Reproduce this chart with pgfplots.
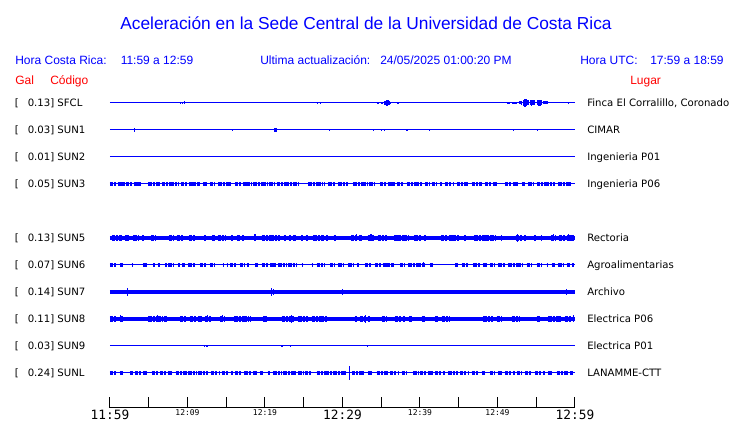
\documentclass[border=0pt]{standalone}
\usepackage{pgfplots}
\pgfplotsset{compat=1.18}
\usepackage{fontspec}
\setmainfont{Liberation Sans}
\newfontfamily\dv{DejaVu Sans}
\newfontfamily\dvm{DejaVu Sans Mono}
\definecolor{cblue}{RGB}{0,0,255}
\definecolor{cred}{RGB}{255,0,0}
\newcommand{\bigt}{\dvm\fontsize{9.6}{9.6}\selectfont}
\newcommand{\smt}{\dvm\fontsize{6}{6}\selectfont}
\pgfplotsset{
  base/.style={cblue, line width=0.75pt, forget plot},
  band/.style={cblue, line width=3pt, forget plot, unbounded coords=jump},
  blk/.style={cblue, line width=#1, forget plot, unbounded coords=jump,
     dash pattern=on 2.6pt off 0.7pt on 1.5pt off 1pt on 3.6pt off 0.7pt on 1.1pt off 0.8pt},
  spk/.style={draw=none, mark=none, forget plot,
     error bars/.cd, y dir=both, y explicit, error mark=none,
     error bar style={draw=cblue, solid, line width=1.1pt}},
}
\begin{document}
\begin{tikzpicture}
\useasboundingbox (0,0) rectangle (555pt,-317.25pt);
\begin{axis}[
  at={(82.5pt,-306pt)}, anchor=south west,
  scale only axis, width=348.75pt, height=239.25pt,
  xmin=0, xmax=60, ymin=-305, ymax=14,
  axis x line=bottom, axis y line=none,
  axis line style={black, line width=0.75pt, -},
  xtick={0,5,...,60}, tick align=inside, major tick length=8.25pt,
  tick style={black, line width=0.75pt},
  xticklabels={{\bigt 11:59},{},{\smt 12:09},{},{\smt 12:19},{},{\bigt 12:29},{},{\smt 12:39},{},{\smt 12:49},{},{\bigt 12:59}},
  xticklabel style={anchor=north, inner sep=1pt},
  clip=false,
]
% ---- SFCL (row 0)
\addplot[base] coordinates {(0,0) (60,0)};
\addplot[blk=1.5pt, solid] coordinates {(36.99,0) (37.29,0) (37.3,nan) (51.2,0) (51.6,0) (51.7,nan) (51.9,0) (52.5,0)};
\addplot[blk=3.75pt, solid] coordinates {(54.2,0) (54.9,0) (55,nan) (55.1,0) (55.7,0)};
\addplot[blk=2.25pt, solid] coordinates {(55.9,0) (56.5,0)};
\addplot[spk] coordinates {(9.1,0) +- (0,0.7) (9.35,0) +- (0,0.7) (9.6,0) +- (0,1.5) (26.75,0) +- (0,0.8) (27.15,0) +- (0,1.0)
 (34.6,0) +- (0,0.8) (35.1,0) +- (0,0.8) (35.45,0) +- (0,1.6) (35.6,0) +- (0,2.2) (35.75,0) +- (0,3.3) (35.9,0) +- (0,2.5) (36.05,0) +- (0,2.0) (36.2,0) +- (0,1.3)
 (51.3,0) +- (0,0.8) (52.0,0) +- (0,1.2) (52.3,0) +- (0,1.3) (52.9,0) +- (0,1.5) (53.1,0) +- (0,1.8) (53.35,0) +- (0,3.0)
 (53.55,0) +- (0,4.3) (53.75,0) +- (0,3.5) (53.95,0) +- (0,2.5) (54.4,0) +- (0,2.7) (54.7,0) +- (0,2.2) (55.3,0) +- (0,3.2)
 (55.5,0) +- (0,2.6) (59.15,0) +- (0,1.3)};
% ---- SUN1 (row 1)
\addplot[base] coordinates {(0,-27) (60,-27)};
\addplot[spk] coordinates {(3.15,-27) +- (0,1.7) (15.8,-27) +- (0,0.9) (21.25,-27) +- (0,1.7) (21.4,-27) +- (0,1.7)
 (28.3,-27) +- (0,1.3) (34.0,-27) +- (0,0.9) (35.05,-27) +- (0,1.3) (35.4,-27) +- (0,1.3) (38.35,-27) +- (0,0.9)
 (41.2,-27) +- (0,0.9) (52.05,-27) +- (0,0.9) (55.15,-27) +- (0,1.3)};
% ---- SUN2 (row 2)
\addplot[base] coordinates {(0,-54) (60,-54)};
% ---- SUN3 (row 3)
\addplot[base] coordinates {(0,-81) (60,-81)};
\addplot[blk=2.6pt] coordinates {(0,-81) (4.09,-81) (4.1,nan) (4.95,-81) (6.45,-81) (6.5,nan) (6.67,-81) (8.82,-81) (8.9,nan)
 (9.16,-81) (11.61,-81) (11.7,nan) (12.04,-81) (12.47,-81) (12.5,nan) (12.9,-81) (13.55,-81) (13.6,nan) (13.98,-81) (15.7,-81) (15.8,nan)
 (16.13,-81) (18.28,-81) (18.3,nan) (18.49,-81) (21.29,-81) (21.3,nan) (21.5,-81) (23.44,-81) (23.5,nan) (23.66,-81) (24.3,-81) (24.4,nan)
 (25.59,-81) (27.74,-81) (27.8,nan) (28.17,-81) (29.03,-81) (29.1,nan) (29.46,-81) (30.75,-81) (30.8,nan) (31.4,-81) (34.19,-81) (34.2,nan)
 (34.84,-81) (36.77,-81) (36.8,nan) (36.99,-81) (37.85,-81) (37.9,nan) (38.28,-81) (40.22,-81) (40.3,nan) (40.65,-81) (41.29,-81) (41.3,nan)
 (41.51,-81) (42.15,-81) (42.2,nan) (42.58,-81) (42.8,-81) (42.9,nan) (43.23,-81) (44.3,-81) (44.4,nan) (44.73,-81) (46.24,-81) (46.3,nan)
 (46.67,-81) (47.96,-81) (48.0,nan) (48.39,-81) (49.89,-81) (49.9,nan) (50.97,-81) (52.69,-81) (52.7,nan) (53.12,-81) (53.55,-81) (53.6,nan)
 (53.98,-81) (54.62,-81) (54.7,nan) (55.05,-81) (57.42,-81) (57.5,nan) (57.85,-81) (59.57,-81)};
% ---- SUN5 (row 5)
\addplot[band] coordinates {(0,-135) (60,-135)};
\addplot[blk=4.5pt] coordinates {(0.22,-135) (1.51,-135) (1.6,nan) (1.94,-135) (2.45,-135) (2.5,nan) (3.01,-135) (3.66,-135) (3.7,nan)
 (4.17,-135) (4.43,-135) (4.5,nan) (5.29,-135) (5.89,-135) (5.9,nan) (7.61,-135) (8.22,-135) (8.3,nan) (8.6,-135) (9.46,-135) (9.5,nan)
 (10.19,-135) (11.18,-135) (11.2,nan) (12.17,-135) (12.34,-135) (12.4,nan) (13.2,-135) (13.55,-135) (13.6,nan) (13.89,-135) (14.92,-135) (15,nan)
 (15.61,-135) (15.87,-135) (15.9,nan) (16.34,-135) (16.77,-135) (16.8,nan) (17.08,-135) (17.33,-135) (17.4,nan) (19.57,-135) (21.94,-135) (22,nan)
 (22.41,-135) (22.75,-135) (22.8,nan) (23.1,-135) (23.35,-135) (23.4,nan) (23.78,-135) (23.96,-135) (24,nan) (24.65,-135) (24.9,-135) (25,nan)
 (25.25,-135) (25.51,-135) (25.6,nan) (26.24,-135) (27.66,-135) (27.7,nan) (27.91,-135) (28.09,-135) (28.1,nan) (28.86,-135) (29.2,-135) (29.3,nan)
 (31.1,-135) (32.56,-135) (32.6,nan) (33.25,-135) (34.02,-135) (34.1,nan) (34.54,-135) (35.74,-135) (35.8,nan) (36.69,-135) (38.71,-135) (38.8,nan)
 (39.27,-135) (40.04,-135) (40.1,nan) (40.56,-135) (40.82,-135) (40.9,nan) (42.71,-135) (45.03,-135) (45.1,nan) (45.72,-135) (45.98,-135) (46,nan)
 (47.01,-135) (49.68,-135) (49.7,nan) (50.45,-135) (50.62,-135) (50.7,nan) (52.34,-135) (53.2,-135) (53.3,nan) (53.46,-135) (53.63,-135) (53.7,nan)
 (54.75,-135) (54.92,-135) (55,nan) (55.61,-135) (55.78,-135) (55.8,nan) (56.9,-135) (57.51,-135) (57.6,nan) (57.94,-135) (59.91,-135)};
\addplot[spk] coordinates {(18.71,-135) +- (0,3.5) (21.5,-135) +- (0,3.2) (23.66,-135) +- (0,3) (31.83,-135) +- (0,3.5)
 (33.68,-135) +- (0,3.5) (37.29,-135) +- (0,3.2) (40.0,-135) +- (0,3.2) (48.73,-135) +- (0,3.2) (52.56,-135) +- (0,3.8)
 (57.2,-135) +- (0,3.5) (59.14,-135) +- (0,3.5)};
% ---- SUN6 (row 6)
\addplot[base] coordinates {(0,-162) (60,-162)};
\addplot[blk=2.4pt] coordinates {(0,-162) (0.73,-162) (0.8,nan) (1.29,-162) (1.85,-162) (1.9,nan) (2.8,-162) (2.97,-162) (3,nan)
 (4.3,-162) (4.73,-162) (4.8,nan) (5.59,-162) (5.81,-162) (5.9,nan) (6.15,-162) (6.45,-162) (6.5,nan) (7.1,-162) (7.31,-162) (7.4,nan)
 (7.53,-162) (8.3,-162) (8.4,nan) (8.82,-162) (9.03,-162) (9.1,nan) (9.33,-162) (9.68,-162) (9.7,nan) (10.11,-162) (10.97,-162) (11,nan)
 (11.61,-162) (12.34,-162) (12.4,nan) (12.9,-162) (13.55,-162) (13.6,nan) (14.62,-162) (14.75,-162) (14.8,nan) (15.05,-162) (15.27,-162) (15.3,nan)
 (15.48,-162) (16.34,-162) (16.4,nan) (16.77,-162) (17.42,-162) (17.5,nan) (17.63,-162) (17.94,-162) (18,nan) (18.71,-162) (19.14,-162) (19.2,nan)
 (19.57,-162) (20.34,-162) (20.4,nan) (20.65,-162) (21.38,-162) (21.4,nan) (21.72,-162) (22.8,-162) (22.9,nan) (23.01,-162) (24.09,-162) (24.1,nan)
 (24.73,-162) (24.86,-162) (24.9,nan) (26.02,-162) (26.24,-162) (26.3,nan) (26.67,-162) (27.74,-162) (27.8,nan) (28.39,-162) (29.03,-162) (29.1,nan)
 (29.46,-162) (30.11,-162) (30.2,nan) (30.75,-162) (31.4,-162) (31.5,nan) (31.83,-162) (32.13,-162) (32.2,nan) (32.9,-162) (33.76,-162) (33.8,nan)
 (34.19,-162) (36.77,-162) (36.8,nan) (37.42,-162) (38.06,-162) (38.1,nan) (38.49,-162) (40.65,-162) (40.7,nan) (41.29,-162) (41.72,-162) (41.8,nan)
 (44.52,-162) (44.95,-162) (45,nan) (45.38,-162) (46.24,-162) (46.3,nan) (46.88,-162) (47.74,-162) (47.8,nan) (48.17,-162) (48.6,-162) (48.7,nan)
 (49.03,-162) (49.68,-162) (49.7,nan) (50.11,-162) (50.97,-162) (51,nan) (51.4,-162) (53.33,-162) (53.4,nan) (53.76,-162) (54.41,-162) (54.5,nan)
 (55.05,-162) (55.7,-162) (55.8,nan) (56.34,-162) (56.56,-162) (56.6,nan) (56.99,-162) (57.42,-162) (57.5,nan) (57.85,-162) (58.49,-162) (58.5,nan)
 (58.92,-162) (59.35,-162) (59.4,nan) (59.57,-162) (59.91,-162)};
\addplot[spk] coordinates {(40.43,-162) +- (0,2.5) (52.9,-162) +- (0,2)};
% ---- SUN7 (row 7)
\addplot[band] coordinates {(0,-189) (60,-189)};
\addplot[spk] coordinates {(2.28,-189) +- (0,4) (7.53,-189) +- (0,2.2) (20.86,-189) +- (0,4.2) (21.08,-189) +- (0,3)
 (22.58,-189) +- (0,2.2) (29.98,-189) +- (0,2.6) (35.7,-189) +- (0,2) (38.58,-189) +- (0,2.2) (39.87,-189) +- (0,2.2)
 (41.29,-189) +- (0,2.2) (45.81,-189) +- (0,2.2) (49.03,-189) +- (0,2.2) (53.46,-189) +- (0,1.8) (58.92,-189) +- (0,2.6)};
% ---- SUN8 (row 8)
\addplot[band] coordinates {(0,-216) (60,-216)};
\addplot[blk=4.5pt] coordinates {(0,-216) (0.86,-216) (0.9,nan) (1.29,-216) (1.72,-216) (1.8,nan) (4.95,-216) (7.31,-216) (7.4,nan)
 (9.03,-216) (9.89,-216) (9.9,nan) (10.32,-216) (11.91,-216) (12,nan) (12.26,-216) (13.03,-216) (13.1,nan) (14.19,-216) (14.84,-216) (14.9,nan)
 (16.04,-216) (18.19,-216) (18.2,nan) (19.78,-216) (20.22,-216) (20.3,nan) (22.15,-216) (23.87,-216) (23.9,nan) (24.3,-216) (25.59,-216) (25.6,nan)
 (26.02,-216) (27.96,-216) (28,nan) (31.61,-216) (31.83,-216) (31.9,nan) (32.26,-216) (33.55,-216) (33.6,nan) (35.05,-216) (35.7,-216) (35.8,nan)
 (36.77,-216) (38.06,-216) (38.1,nan) (38.58,-216) (39.14,-216) (39.2,nan) (40.22,-216) (40.65,-216) (40.7,nan) (41.94,-216) (42.37,-216) (42.4,nan)
 (42.8,-216) (43.87,-216) (43.9,nan) (48.17,-216) (49.46,-216) (49.5,nan) (49.89,-216) (50.54,-216) (50.6,nan) (51.83,-216) (52.9,-216) (53,nan)
 (55.05,-216) (55.48,-216) (55.5,nan) (56.56,-216) (58.28,-216) (58.3,nan) (58.71,-216) (59.78,-216)};
\addplot[spk] coordinates {(1.38,-216) +- (0,3.5) (6.15,-216) +- (0,3.5) (12.6,-216) +- (0,3.5) (14.49,-216) +- (0,3.5)
 (23.44,-216) +- (0,4) (32.99,-216) +- (0,4) (56.77,-216) +- (0,3) (59.78,-216) +- (0,3.5)};
% ---- SUN9 (row 9)
\addplot[base] coordinates {(0,-243) (60,-243)};
\addplot[spk] coordinates {(12.2,-243) +- (0,1.3) (12.5,-243) +- (0,1.3) (22.2,-243) +- (0,1.3) (23.3,-243) +- (0,0.9) (33.2,-243) +- (0,0.9)};
% ---- SUNL (row 10)
\addplot[base] coordinates {(0,-270) (60,-270)};
\addplot[blk=2.5pt] coordinates {(0,-270) (0.86,-270) (0.9,nan) (1.29,-270) (1.72,-270) (1.8,nan) (2.58,-270) (3.01,-270) (3.1,nan)
 (3.23,-270) (4.73,-270) (4.8,nan) (5.38,-270) (6.24,-270) (6.3,nan) (6.45,-270) (7.96,-270) (8,nan) (8.47,-270) (9.89,-270) (9.9,nan)
 (10.11,-270) (11.18,-270) (11.2,nan) (11.4,-270) (12.69,-270) (12.7,nan) (13.03,-270) (14.19,-270) (14.2,nan) (14.41,-270) (15.27,-270) (15.3,nan)
 (15.61,-270) (15.91,-270) (16,nan) (16.13,-270) (16.99,-270) (17,nan) (17.33,-270) (18.28,-270) (18.3,nan) (18.49,-270) (18.92,-270) (19,nan)
 (19.35,-270) (19.78,-270) (19.8,nan) (20.34,-270) (20.65,-270) (20.7,nan) (21.08,-270) (22.15,-270) (22.2,nan) (22.37,-270) (24.09,-270) (24.1,nan)
 (24.3,-270) (24.95,-270) (25,nan) (25.16,-270) (26.02,-270) (26.1,nan) (26.67,-270) (28.6,-270) (28.7,nan) (28.82,-270) (30.54,-270) (30.6,nan)
 (31.18,-270) (32.9,-270) (33,nan) (33.33,-270) (33.76,-270) (33.8,nan) (34.41,-270) (35.91,-270) (36,nan) (36.13,-270) (37.2,-270) (37.3,nan)
 (37.63,-270) (38.28,-270) (38.3,nan) (39.14,-270) (39.78,-270) (39.8,nan) (40,-270) (41.72,-270) (41.8,nan) (41.94,-270) (43.23,-270) (43.3,nan)
 (43.66,-270) (44.95,-270) (45,nan) (45.16,-270) (46.24,-270) (46.3,nan) (46.67,-270) (47.53,-270) (47.6,nan) (47.96,-270) (48.39,-270) (48.4,nan)
 (49.03,-270) (49.68,-270) (49.7,nan) (50.11,-270) (50.54,-270) (50.6,nan) (50.97,-270) (52.26,-270) (52.3,nan) (52.47,-270) (53.12,-270) (53.2,nan)
 (53.55,-270) (54.41,-270) (54.5,nan) (54.84,-270) (56.13,-270) (56.2,nan) (56.56,-270) (56.99,-270) (57,nan) (57.63,-270) (59.14,-270) (59.2,nan)
 (59.35,-270) (59.78,-270)};
\addplot[spk] coordinates {(11.4,-270) +- (0,2) (22.58,-270) +- (0,2.3) (23.78,-270) +- (0,2) (30.88,-270) +- (0,6.7)};
\end{axis}
\begin{scope}[x=0.75pt,y=-0.75pt]
  \node[anchor=base, text=cblue, font=\fontsize{13}{15}\selectfont, inner sep=0pt] at (366,30) {Aceleración en la Sede Central de la Universidad de Costa Rica};
  \begin{scope}[every node/.style={anchor=base west, inner sep=0pt, font=\fontsize{9}{11}\selectfont}]
    \node[text=cblue] at (15,65) {Hora Costa Rica:};
    \node[text=cblue] at (120.5,65) {11:59 a 12:59};
    \node[text=cblue] at (260,65) {Ultima actualización:};
    \node[text=cblue] at (380,65) {24/05/2025 01:00:20 PM};
    \node[text=cblue] at (580,65) {Hora UTC:};
    \node[text=cblue] at (650,65) {17:59 a 18:59};
    \node[text=cred] at (15,85) {Gal};
    \node[text=cred] at (50,85) {Código};
    \node[text=cred] at (630,85) {Lugar};
  \end{scope}
  \begin{scope}[every node/.style={anchor=base west, inner sep=0pt, font=\dv\fontsize{7.6}{9}\selectfont}]
    \node at (14.5,107) {[}; \node at (27.5,107) {0.13] SFCL}; \node at (587,107) {Finca El Corralillo, Coronado};
    \node at (14.5,134) {[}; \node at (27.5,134) {0.03] SUN1}; \node at (587,134) {CIMAR};
    \node at (14.5,161) {[}; \node at (27.5,161) {0.01] SUN2}; \node at (587,161) {Ingenieria P01};
    \node at (14.5,188) {[}; \node at (27.5,188) {0.05] SUN3}; \node at (587,188) {Ingenieria P06};
    \node at (14.5,242) {[}; \node at (27.5,242) {0.13] SUN5}; \node at (587,242) {Rectoria};
    \node at (14.5,269) {[}; \node at (27.5,269) {0.07] SUN6}; \node at (587,269) {Agroalimentarias};
    \node at (14.5,296) {[}; \node at (27.5,296) {0.14] SUN7}; \node at (587,296) {Archivo};
    \node at (14.5,323) {[}; \node at (27.5,323) {0.11] SUN8}; \node at (587,323) {Electrica P06};
    \node at (14.5,350) {[}; \node at (27.5,350) {0.03] SUN9}; \node at (587,350) {Electrica P01};
    \node at (14.5,377) {[}; \node at (27.5,377) {0.24] SUNL}; \node at (587,377) {LANAMME-CTT};
  \end{scope}
\end{scope}
\end{tikzpicture}
\end{document}
